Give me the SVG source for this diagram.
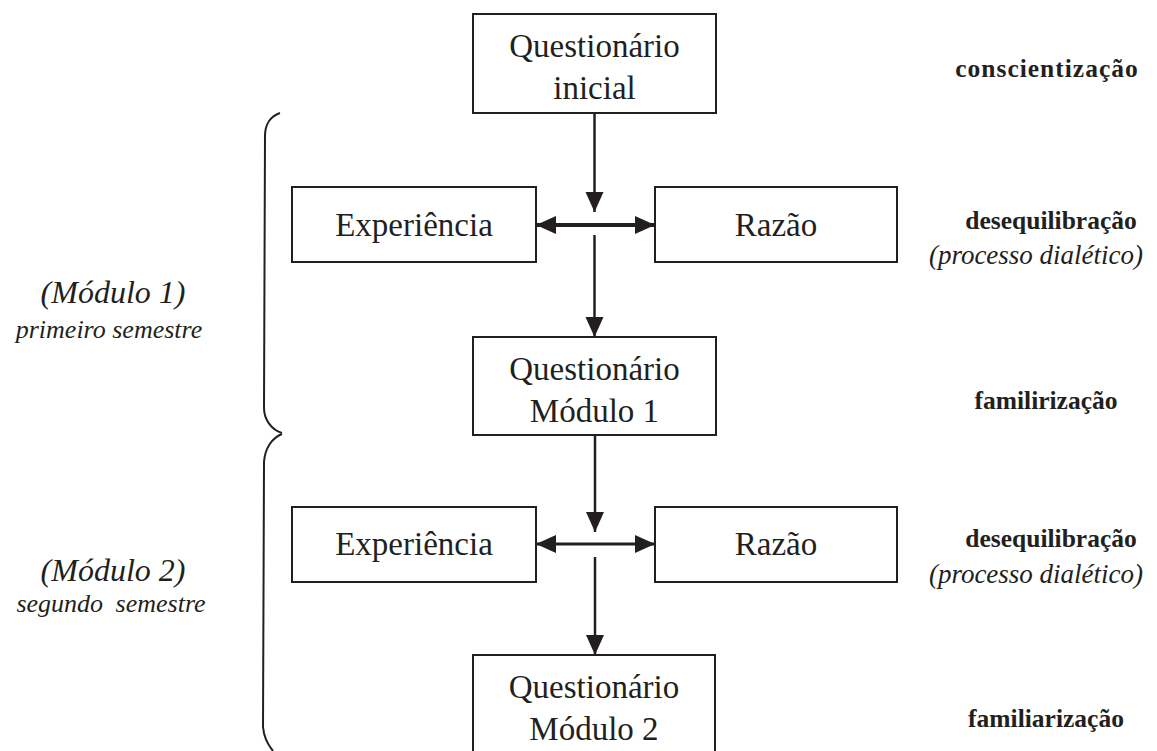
<svg xmlns="http://www.w3.org/2000/svg" width="1157" height="751" viewBox="0 0 1157 751">
  <style>
    .box { fill: #ffffff; stroke: #231f20; stroke-width: 2; }
    .label { font-family: "Liberation Serif", "Times New Roman", serif; font-size: 33px; fill: #231f20; text-anchor: middle; }
    .stage { font-family: "Liberation Serif", "Times New Roman", serif; font-size: 25.5px; font-weight: bold; fill: #231f20; text-anchor: middle; }
    .note { font-family: "Liberation Serif", "Times New Roman", serif; font-size: 27px; font-style: italic; fill: #231f20; text-anchor: middle; }
    .module { font-family: "Liberation Serif", "Times New Roman", serif; font-size: 32px; font-style: italic; fill: #231f20; text-anchor: middle; }
    .term { font-family: "Liberation Serif", "Times New Roman", serif; font-size: 26px; font-style: italic; fill: #231f20; text-anchor: middle; }
    .flow { fill: none; stroke: #231f20; stroke-width: 2.5; }
    .flow-wide { fill: none; stroke: #231f20; stroke-width: 4; }
    .flow-mid { fill: none; stroke: #231f20; stroke-width: 3; }
    .brace { fill: none; stroke: #231f20; stroke-width: 2; }
  </style>
  <defs>
    <marker id="head" markerUnits="userSpaceOnUse" markerWidth="20" markerHeight="20" viewBox="0 0 20 20" refX="20" refY="10" orient="auto-start-reverse">
      <path d="M0,1 L20,10 L0,19 z" fill="#231f20"/>
    </marker>
  </defs>

  <rect width="1157" height="751" fill="#ffffff"/>

  <!-- semester braces -->
  <g id="brace-module1">
    <path class="brace" d="M280,113 C271,116 265,124 265,136 L264,408 C264,420 272,430 282,433"/>
  </g>
  <g id="brace-module2">
    <path class="brace" d="M282,434 C272,438 265,448 264,462 L263,727 C264,738 268,745 273,751"/>
  </g>

  <!-- semester captions -->
  <g id="caption-module1">
    <text class="module" x="113" y="303">(Módulo 1)</text>
    <text class="term" x="109" y="338">primeiro semestre</text>
  </g>
  <g id="caption-module2">
    <text class="module" x="113" y="581">(Módulo 2)</text>
    <text class="term" x="111" y="612" word-spacing="6">segundo semestre</text>
  </g>

  <!-- connectors -->
  <g id="connectors">
    <line class="flow" x1="594.5" y1="113" x2="594.5" y2="212" marker-end="url(#head)"/>
    <line class="flow-wide" x1="536" y1="225" x2="655" y2="225" marker-start="url(#head)" marker-end="url(#head)"/>
    <line class="flow" x1="594.5" y1="235" x2="594.5" y2="337" marker-end="url(#head)"/>
    <line class="flow" x1="595" y1="435" x2="595" y2="532" marker-end="url(#head)"/>
    <line class="flow-mid" x1="536" y1="544" x2="655" y2="544" marker-start="url(#head)" marker-end="url(#head)"/>
    <line class="flow" x1="595" y1="557" x2="595" y2="655" marker-end="url(#head)"/>
  </g>

  <!-- nodes -->
  <g id="questionario-inicial">
    <rect class="box" x="473" y="14" width="243" height="99"/>
    <text class="label" x="594.5" y="57">Questionário</text>
    <text class="label" x="594.5" y="99">inicial</text>
  </g>
  <g id="experiencia-1">
    <rect class="box" x="292" y="187" width="244" height="75"/>
    <text class="label" x="414" y="236">Experiência</text>
  </g>
  <g id="razao-1">
    <rect class="box" x="655" y="187" width="242" height="75"/>
    <text class="label" x="776" y="236">Razão</text>
  </g>
  <g id="questionario-modulo1">
    <rect class="box" x="473" y="337" width="243" height="98"/>
    <text class="label" x="594.5" y="380">Questionário</text>
    <text class="label" x="594.5" y="422">Módulo 1</text>
  </g>
  <g id="experiencia-2">
    <rect class="box" x="292" y="507" width="244" height="75"/>
    <text class="label" x="414" y="555">Experiência</text>
  </g>
  <g id="razao-2">
    <rect class="box" x="655" y="507" width="242" height="75"/>
    <text class="label" x="776" y="555">Razão</text>
  </g>
  <g id="questionario-modulo2">
    <rect class="box" x="473" y="655" width="242" height="110"/>
    <text class="label" x="594" y="698">Questionário</text>
    <text class="label" x="594" y="740">Módulo 2</text>
  </g>

  <!-- learning stages -->
  <g id="stage-conscientizacao">
    <text class="stage" x="1047" y="77" letter-spacing="1">conscientização</text>
  </g>
  <g id="stage-desequilibracao-1">
    <text class="stage" x="1051" y="229">desequilibração</text>
    <text class="note" x="1036" y="264">(processo dialético)</text>
  </g>
  <g id="stage-familirizacao">
    <text class="stage" x="1046" y="409">familirização</text>
  </g>
  <g id="stage-desequilibracao-2">
    <text class="stage" x="1051" y="547">desequilibração</text>
    <text class="note" x="1036" y="583">(processo dialético)</text>
  </g>
  <g id="stage-familiarizacao">
    <text class="stage" x="1046" y="727">familiarização</text>
  </g>
</svg>
